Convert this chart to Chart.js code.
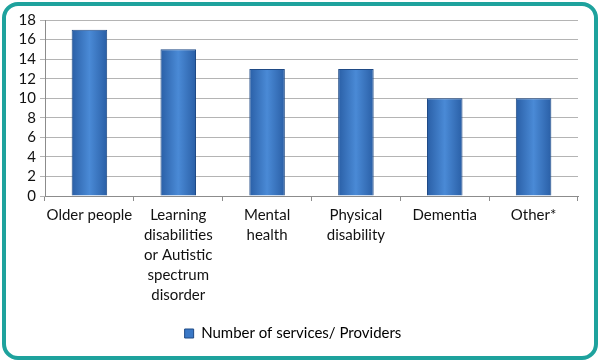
<!DOCTYPE html>
<html>
<head>
<meta charset="utf-8">
<script src="https://cdn.jsdelivr.net/npm/chart.js@4/dist/chart.umd.min.js"></script>
<style>
  html, body { margin: 0; padding: 0; background: #fff; }
  #marco {
    position: absolute; left: 2px; top: 2px; width: 588px; height: 350px;
    border: 4px solid #1ea29d; border-radius: 16px;
  }
  #caja { position: absolute; left: 0; top: 0; width: 600px; height: 363px; }
</style>
</head>
<body>
<div id="marco"></div>
<div id="caja"><canvas id="grafico" width="600" height="363"></canvas></div>
<script>
// Datos del gráfico
const categorias = [
    'Older people',
    ['Learning', 'disabilities', 'or Autistic', 'spectrum', 'disorder'],
    ['Mental', 'health'],
    ['Physical', 'disability'],
    'Dementia',
    'Other*'
];
const servicios = [17, 15, 13, 13, 10, 10];
const etiquetaSerie = 'Number of services/ Providers';
const marcasY = [0, 2, 4, 6, 8, 10, 12, 14, 16, 18];

const fuente = { family: 'Lato, "Open Sans", sans-serif', size: 15, lineHeight: 1.33 };

// Degradado horizontal en cada barra
const degradadoBarras = {
    id: 'degradadoBarras',
    beforeDatasetsDraw(chart) {
        const ctx = chart.ctx;
        chart.getDatasetMeta(0).data.forEach(function(barra) {
            const x0 = barra.x - barra.width / 2;
            const g = ctx.createLinearGradient(x0, 0, x0 + barra.width, 0);
            g.addColorStop(0, '#2a5fa6');
            g.addColorStop(0.5, '#4a8ad6');
            g.addColorStop(1, '#2a5fa6');
            barra.options.backgroundColor = g;
        });
    }
};

new Chart(document.getElementById('grafico'), {
    type: 'bar',
    data: {
        labels: categorias,
        datasets: [{
            label: etiquetaSerie,
            data: servicios,
            backgroundColor: function() { return '#3a78c6'; },
            borderColor: '#1f4a85',
            borderWidth: 1,
            barPercentage: 0.4,
            categoryPercentage: 1
        }]
    },
    plugins: [degradadoBarras],
    options: {
        responsive: false,
        animation: false,
        layout: { padding: { left: 8, right: 22, top: 20, bottom: 12 } },
        plugins: {
            legend: {
                position: 'bottom',
                labels: {
                    color: '#111',
                    font: { family: fuente.family, size: 15 },
                    boxWidth: 9,
                    boxHeight: 9,
                    padding: 6,
                    generateLabels: function(chart) {
                        return [{
                            text: etiquetaSerie,
                            fillStyle: '#3a78c6',
                            strokeStyle: '#1f4a85',
                            lineWidth: 1,
                            datasetIndex: 0
                        }];
                    }
                }
            },
            tooltip: { enabled: false }
        },
        scales: {
            x: {
                grid: {
                    drawOnChartArea: false,
                    color: '#8c8c8c',
                    tickLength: 5,
                    offset: true
                },
                border: { color: '#8c8c8c' },
                ticks: { color: '#111', font: fuente, maxRotation: 0, autoSkip: false, padding: 4 },
                afterFit: function(escala) { escala.height = 124; }
            },
            y: {
                min: 0,
                max: 18,
                afterBuildTicks: function(escala) {
                    escala.ticks = marcasY.map(function(v) { return { value: v }; });
                },
                grid: { color: '#b4b4b4', tickLength: 5 },
                border: { color: '#8c8c8c' },
                ticks: { color: '#111', font: fuente, padding: 4, autoSkip: false },
                afterFit: function(escala) { escala.width = 37; }
            }
        }
    }
});
</script>
</body>
</html>
